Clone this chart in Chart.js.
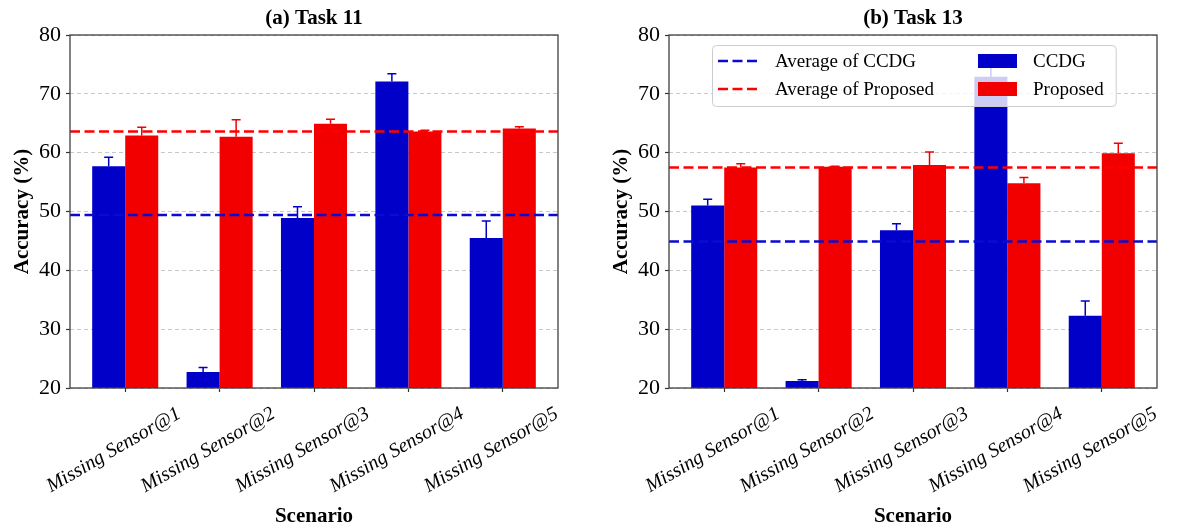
<!DOCTYPE html>
<html>
<head>
<meta charset="utf-8">
<script src="https://cdn.jsdelivr.net/npm/chart.js@4.4.0/dist/chart.umd.min.js"></script>
<style>
  html, body { margin: 0; padding: 0; background: #fff; }
  #wrap { position: relative; width: 1182px; height: 528px; }
  canvas { position: absolute; top: 0; }
</style>
</head>
<body>
<div id="wrap">
  <canvas id="chartA" width="590" height="528" style="left:0"></canvas>
  <canvas id="chartB" width="592" height="528" style="left:590px"></canvas>
</div>
<script>
// categories
var scenarios = ['Missing Sensor@1', 'Missing Sensor@2', 'Missing Sensor@3', 'Missing Sensor@4', 'Missing Sensor@5'];

// (a) Task 11
var task11Ccdg = [57.7, 22.7, 48.9, 72.1, 45.5];
var task11CcdgErr = [1.5, 0.8, 1.9, 1.3, 2.9];
var task11Proposed = [62.9, 62.7, 64.9, 63.6, 64.1];
var task11ProposedErr = [1.4, 2.9, 0.8, 0.2, 0.3];
var task11AvgCcdg = 49.4;
var task11AvgProposed = 63.6;

// (b) Task 13
var task13Ccdg = [51.0, 21.2, 46.8, 72.9, 32.3];
var task13CcdgErr = [1.1, 0.2, 1.1, 2.0, 2.5];
var task13Proposed = [57.5, 57.6, 57.9, 54.8, 59.9];
var task13ProposedErr = [0.6, 0.1, 2.2, 1.0, 1.7];
var task13AvgCcdg = 44.9;
var task13AvgProposed = 57.5;

// axis ranges
var yMin = 20, yMax = 80, yStep = 10;
var xMin = -0.585, xMax = 4.585;

var SERIF = "'Liberation Serif', 'Times New Roman', serif";
var BLUE = '#0000c8', RED = '#f20000';
var BLUE_LINE = '#0a0ad2', RED_LINE = '#ff0000';

Chart.defaults.font.family = SERIF;
Chart.defaults.color = '#000';

// error bars (only upward), drawn right after each bar dataset
var errorBars = {
  id: 'errorBars',
  afterDatasetDraw: function (chart, args) {
    var ds = chart.data.datasets[args.index];
    if (!ds.errors) return;
    var ctx = chart.ctx, yScale = chart.scales.y;
    ctx.save();
    ctx.strokeStyle = ds.backgroundColor;
    ctx.lineWidth = 1.5;
    args.meta.data.forEach(function (bar, i) {
      var top = yScale.getPixelForValue(ds.data[i].y + ds.errors[i]);
      ctx.beginPath();
      ctx.moveTo(bar.x, bar.y);
      ctx.lineTo(bar.x, top);
      ctx.moveTo(bar.x - 4.5, top);
      ctx.lineTo(bar.x + 4.5, top);
      ctx.stroke();
    });
    ctx.restore();
  }
};

// box around the plot area
var frame = {
  id: 'frame',
  afterDatasetsDraw: function (chart) {
    var a = chart.chartArea, ctx = chart.ctx;
    ctx.save();
    ctx.strokeStyle = '#404040';
    ctx.lineWidth = 1.3;
    ctx.strokeRect(a.left, a.top, a.right - a.left, a.bottom - a.top);
    ctx.restore();
  }
};

var panelTitle = {
  id: 'panelTitle',
  afterDraw: function (chart, args, opts) {
    var a = chart.chartArea, ctx = chart.ctx;
    ctx.save();
    ctx.font = 'bold 21px ' + SERIF;
    ctx.fillStyle = '#000';
    ctx.textAlign = 'center';
    ctx.textBaseline = 'middle';
    ctx.fillText(opts.text, (a.left + a.right) / 2, a.top - 16);
    ctx.restore();
  }
};

// two-column legend like matplotlib's ncol=2
var boxLegend = {
  id: 'boxLegend',
  afterDraw: function (chart, args, opts) {
    if (!opts.show) return;
    var ctx = chart.ctx, a = chart.chartArea;
    var lines = chart.data.datasets.filter(function (d) { return d.type === 'line'; });
    var bars = chart.data.datasets.filter(function (d) { return d.type === 'bar'; });
    ctx.save();
    ctx.font = '19px ' + SERIF;
    var w1 = 0, w2 = 0;
    lines.forEach(function (d) { w1 = Math.max(w1, ctx.measureText(d.label).width); });
    bars.forEach(function (d) { w2 = Math.max(w2, ctx.measureText(d.label).width); });
    var x0 = a.left + 43, y0 = a.top + 10;
    var col1Text = x0 + 63;
    var col2Handle = col1Text + w1 + 44;
    var col2Text = col2Handle + 55;
    var w = col2Text + w2 + 12 - x0, h = 61;

    ctx.fillStyle = 'rgba(255,255,255,0.8)';
    ctx.strokeStyle = '#cccccc';
    ctx.lineWidth = 1;
    ctx.beginPath();
    ctx.roundRect(x0 + 0.5, y0 + 0.5, w, h, 4);
    ctx.fill();
    ctx.stroke();

    ctx.textAlign = 'left';
    ctx.textBaseline = 'middle';
    for (var r = 0; r < 2; r++) {
      var cy = y0 + 16 + r * 28;
      var ld = lines[r], bd = bars[r];
      if (ld) {
        ctx.strokeStyle = ld.borderColor;
        ctx.lineWidth = ld.borderWidth;
        ctx.setLineDash(ld.borderDash);
        ctx.beginPath();
        ctx.moveTo(x0 + 6, cy);
        ctx.lineTo(x0 + 46, cy);
        ctx.stroke();
        ctx.setLineDash([]);
        ctx.fillStyle = '#000';
        ctx.fillText(ld.label, col1Text, cy + 1);
      }
      if (bd) {
        ctx.fillStyle = bd.backgroundColor;
        ctx.fillRect(col2Handle, cy - 7, 39, 14);
        ctx.fillStyle = '#000';
        ctx.fillText(bd.label, col2Text, cy + 1);
      }
    }
    ctx.restore();
  }
};

function points(values) {
  return values.map(function (v, i) { return { x: i, y: v }; });
}

function makeChart(id, cfg) {
  var datasets = [
    { type: 'line', label: 'Average of CCDG', data: [{ x: xMin, y: cfg.avgCcdg }, { x: xMax, y: cfg.avgCcdg }],
      borderColor: BLUE_LINE, borderWidth: 2.5, borderDash: [10, 4.5], pointRadius: 0, order: 0 },
    { type: 'line', label: 'Average of Proposed', data: [{ x: xMin, y: cfg.avgProposed }, { x: xMax, y: cfg.avgProposed }],
      borderColor: RED_LINE, borderWidth: 2.5, borderDash: [10, 4.5], pointRadius: 0, order: 0 },
    { type: 'bar', label: 'CCDG', data: points(cfg.ccdg), errors: cfg.ccdgErr,
      backgroundColor: BLUE, borderWidth: 0, categoryPercentage: 0.7, barPercentage: 1.0, order: 1 },
    { type: 'bar', label: 'Proposed', data: points(cfg.proposed), errors: cfg.proposedErr,
      backgroundColor: RED, borderWidth: 0, categoryPercentage: 0.7, barPercentage: 1.0, order: 1 }
  ];

  return new Chart(document.getElementById(id), {
    data: { datasets: datasets },
    plugins: [errorBars, frame, panelTitle, boxLegend],
    options: {
      responsive: false,
      animation: false,
      layout: { padding: { top: 35, right: cfg.rightPad, left: 0, bottom: 0 } },
      plugins: {
        legend: { display: false },
        tooltip: { enabled: false },
        panelTitle: { text: cfg.title },
        boxLegend: { show: cfg.legend }
      },
      scales: {
        x: {
          type: 'linear',
          min: xMin,
          max: xMax,
          offset: false,
          grid: { offset: false, drawOnChartArea: false, tickLength: 4, tickColor: '#333', tickWidth: 1.2 },
          border: { display: false },
          ticks: {
            stepSize: 1,
            autoSkip: false,
            includeBounds: false,
            minRotation: 30,
            maxRotation: 30,
            labelOffset: 54,
            padding: 10,
            color: '#000',
            font: { family: SERIF, size: 20, style: 'italic' },
            callback: function (v) { return scenarios[v]; }
          },
          title: {
            display: true,
            text: 'Scenario',
            color: '#000',
            font: { family: SERIF, size: 21, weight: 'bold', lineHeight: 1.1 },
            padding: { top: 0, bottom: 0 }
          },
          afterFit: function (s) { s.height = 140; s.paddingLeft = 0; s.paddingRight = 0; }
        },
        y: {
          min: yMin,
          max: yMax,
          grid: { color: '#c8c8c8', lineWidth: 1, tickLength: 4, tickColor: '#333', tickWidth: 1.2, tickBorderDash: [] },
          border: { display: false, dash: [4, 3] },
          ticks: { stepSize: yStep, padding: 5, color: '#000', font: { family: SERIF, size: 22 } },
          title: {
            display: true,
            text: 'Accuracy (%)',
            color: '#000',
            font: { family: SERIF, size: 21, weight: 'bold' },
            padding: { top: cfg.yTitlePad, bottom: 0 }
          },
          afterFit: function (s) { s.width = cfg.leftW; s.paddingTop = 0; s.paddingBottom = 0; }
        }
      }
    }
  });
}

makeChart('chartA', {
  title: '(a) Task 11',
  ccdg: task11Ccdg, ccdgErr: task11CcdgErr,
  proposed: task11Proposed, proposedErr: task11ProposedErr,
  avgCcdg: task11AvgCcdg, avgProposed: task11AvgProposed,
  leftW: 70, rightPad: 32, yTitlePad: 9.5, legend: false
});

makeChart('chartB', {
  title: '(b) Task 13',
  ccdg: task13Ccdg, ccdgErr: task13CcdgErr,
  proposed: task13Proposed, proposedErr: task13ProposedErr,
  avgCcdg: task13AvgCcdg, avgProposed: task13AvgProposed,
  leftW: 79, rightPad: 25, yTitlePad: 18.5, legend: true
});
</script>
</body>
</html>
